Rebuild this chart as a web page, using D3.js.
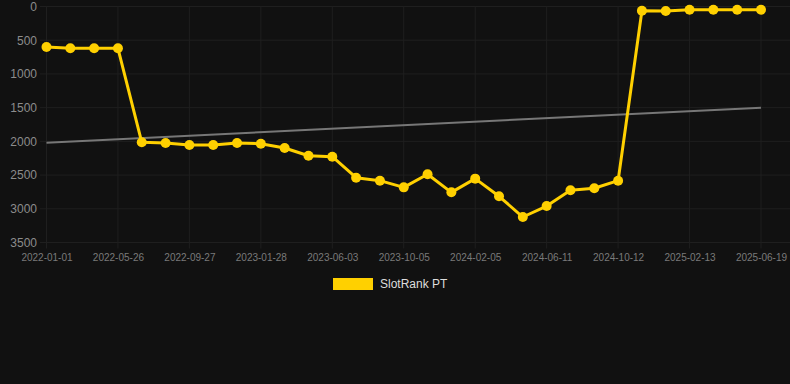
<!DOCTYPE html>
<html>
<head>
<meta charset="utf-8">
<script src="https://cdn.jsdelivr.net/npm/d3@7"></script>
<style>
  html, body { margin: 0; padding: 0; background: #111111; }
  svg { display: block; }
</style>
</head>
<body>
<svg id="chart" width="790" height="384"></svg>
<script>
// ---- data ----
const categories = [
  "2022-01-01","2022-02-18","2022-04-07","2022-05-26","2022-07-06","2022-08-16",
  "2022-09-27","2022-11-07","2022-12-18","2023-01-28","2023-03-11","2023-04-22",
  "2023-06-03","2023-07-14","2023-08-24","2023-10-05","2023-11-15","2023-12-26",
  "2024-02-05","2024-03-17","2024-04-29","2024-06-11","2024-07-22","2024-09-01",
  "2024-10-12","2024-11-22","2025-01-02","2025-02-13","2025-03-26","2025-05-08",
  "2025-06-19"
];
const rankValues = [
  600, 620, 620, 620, 2014, 2024, 2054, 2054, 2024, 2035, 2099, 2213,
  2228, 2539, 2583, 2682, 2488, 2756, 2553, 2815, 3122, 2959, 2726, 2696,
  2583, 62, 67, 47, 47, 47, 47
];
const trendValues = [2020, 1500]; // at first and last category
const yTicks = [0, 500, 1000, 1500, 2000, 2500, 3000, 3500];
const seriesName = "SlotRank PT";

// ---- setup ----
const W = 790, H = 384;
const svg = d3.select("#chart");
const fontFamily = "Helvetica, Arial, 'Liberation Sans', sans-serif";

const x = d3.scalePoint().domain(categories).range([46.5, 761]);
const y = d3.scaleLinear().domain([0, 3500]).range([6.5, 242.5]);

const gridColor = "#1f1f1f";
const xTickVals = categories.filter((d, i) => i % 3 === 0);

// horizontal grid
svg.append("g").selectAll("line").data(yTicks).join("line")
  .attr("x1", 40).attr("x2", W)
  .attr("y1", d => y(d)).attr("y2", d => y(d))
  .attr("stroke", gridColor).attr("stroke-width", 1);

// vertical grid
svg.append("g").selectAll("line").data(xTickVals).join("line")
  .attr("x1", d => x(d)).attr("x2", d => x(d))
  .attr("y1", y(0)).attr("y2", y(3500) + 6)
  .attr("stroke", gridColor).attr("stroke-width", 1);

// y axis labels
const yAxis = d3.axisLeft(y).tickValues(yTicks).tickFormat(d3.format("d")).tickSize(0).tickPadding(0);
const gy = svg.append("g").attr("transform", "translate(37,0)").call(yAxis);
gy.select(".domain").remove();
gy.selectAll("text")
  .attr("fill", "#8c8c8c").attr("font-size", 12).attr("font-family", fontFamily);

// x axis labels
const xAxis = d3.axisBottom(x).tickValues(xTickVals).tickSize(0).tickPadding(0);
const gx = svg.append("g").attr("transform", `translate(0,${y(3500) + 11})`).call(xAxis);
gx.select(".domain").remove();
gx.selectAll("text")
  .attr("fill", "#7a7a7a").attr("font-size", 10).attr("font-family", fontFamily);

// trend line
const trendPts = [
  [categories[0], trendValues[0]],
  [categories[categories.length - 1], trendValues[1]]
];
svg.append("path")
  .datum(trendPts)
  .attr("d", d3.line().x(d => x(d[0])).y(d => y(d[1])))
  .attr("fill", "none").attr("stroke", "#777777").attr("stroke-width", 2);

// series line
const yellow = "#ffd000";
const pts = categories.map((c, i) => ({ c, v: rankValues[i] }));
svg.append("path")
  .datum(pts)
  .attr("d", d3.line().x(d => x(d.c)).y(d => y(d.v)))
  .attr("fill", "none").attr("stroke", yellow).attr("stroke-width", 3)
  .attr("stroke-linejoin", "round");

svg.append("g").selectAll("circle").data(pts).join("circle")
  .attr("cx", d => x(d.c)).attr("cy", d => y(d.v)).attr("r", 5)
  .attr("fill", yellow);

// legend
const lg = svg.append("g");
lg.append("rect").attr("x", 333).attr("y", 278).attr("width", 40).attr("height", 12)
  .attr("fill", yellow);
lg.append("text").attr("x", 380).attr("y", 284).attr("dy", "0.35em")
  .attr("fill", "#dddddd").attr("font-size", 12).attr("font-family", fontFamily)
  .text(seriesName);
</script>
</body>
</html>
